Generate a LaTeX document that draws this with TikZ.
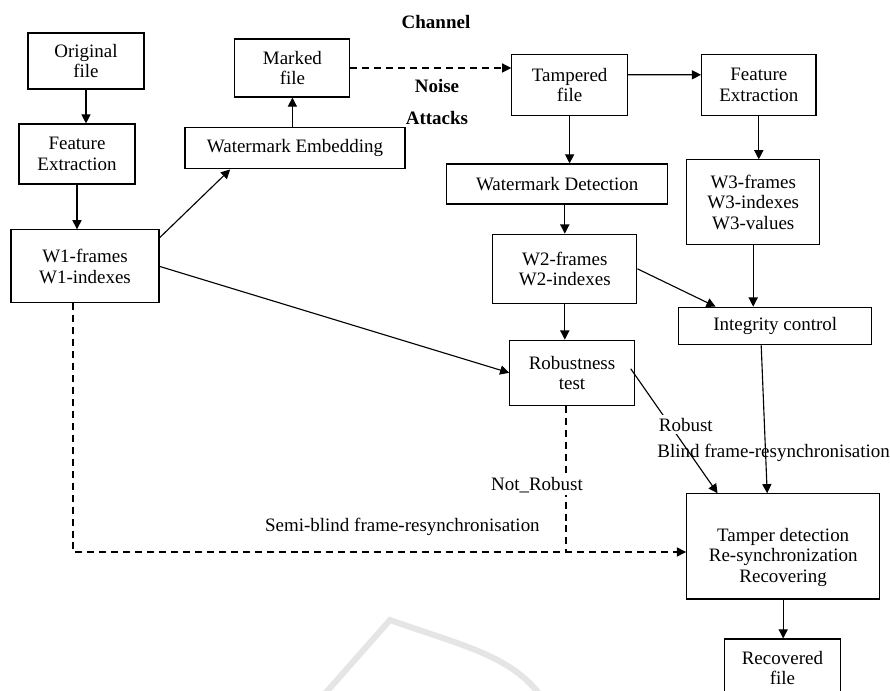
\documentclass[tikz,border=0pt]{standalone}
\usepackage{fontspec}
\setmainfont{Liberation Serif}
\usepackage{tikz}
\usetikzlibrary{arrows,arrows.meta,positioning}

\begin{document}
\begin{tikzpicture}[->, >={Triangle[length=6.5pt,width=6.5pt]}, line width=0.8pt, font=\fontsize{13.5}{14.5}\selectfont]
\tikzstyle{box} = [draw, rectangle, align=center, inner sep=2pt]
\tikzstyle{lbl} = [inner sep=2pt]
\tikzset{dashline/.style={dash pattern=on 5pt off 3.5pt}}
\useasboundingbox (0,0) rectangle (22.25,-17.275);
% faint mark at the bottom
\draw[-, gray!20, line width=4.3pt] (8.05,-17.425) -- (9.75,-15.5)
  .. controls (11.5,-16.125) and (12.75,-16.375) .. (13.5,-17.375);
% boxes
\node[box, minimum width=2.9cm, minimum height=1.4cm] (orig) at (2.15,-1.525) {Original\\file};
\node[box, minimum width=2.875cm, minimum height=1.45cm] (marked) at (7.31,-1.7) {Marked\\file};
\node[box, minimum width=2.9cm, minimum height=1.5cm] (fe1) at (1.925,-3.85) {Feature\\Extraction};
\node[box, minimum width=5.5cm, minimum height=1.025cm] (embed) at (7.375,-3.71) {Watermark Embedding};
\node[box, minimum width=3.7cm, minimum height=1.825cm] (w1) at (2.125,-6.66) {W1-frames\\W1-indexes};
\node[box, minimum width=2.89cm, minimum height=1.515cm] (tamp) at (14.24,-2.125) {Tampered\\file};
\node[box, minimum width=2.86cm, minimum height=1.515cm] (fe2) at (18.97,-2.125) {Feature\\Extraction};
\node[box, minimum width=5.53cm, minimum height=1cm] (detect) at (13.93,-4.6) {Watermark Detection};
\node[box, minimum width=3.33cm, minimum height=2.125cm] (w3) at (18.83,-5.06) {W3-frames\\W3-indexes\\W3-values};
\node[box, minimum width=3.6cm, minimum height=1.73cm] (w2) at (14.12,-6.72) {W2-frames\\W2-indexes};
\node[box, minimum width=4.83cm, minimum height=0.94cm] (integ) at (19.38,-8.15) {Integrity control};
\node[box, minimum width=3.11cm, minimum height=1.63cm] (robust) at (14.3,-9.32) {Robustness\\test};
\node[box, minimum width=4.83cm, minimum height=2.63cm] (tamper) at (19.58,-13.66) {\rule{0pt}{25pt}Tamper detection\\Re-synchronization\\Recovering};
\node[box, minimum width=2.9cm, minimum height=1.45cm] (recov) at (19.56,-16.7) {Recovered\\file};
% free labels
\node[lbl, font=\fontsize{13.5}{14.5}\selectfont\bfseries] (chan) at (10.9,-0.55) {Channel};
\node[lbl, font=\fontsize{13.5}{14.5}\selectfont\bfseries] (noise) at (10.925,-2.15) {Noise};
\node[lbl, font=\fontsize{13.5}{14.5}\selectfont\bfseries] (attack) at (10.925,-2.95) {Attacks};
\node[lbl] (blind) at (19.34,-11.33) {Blind frame-resynchronisation};
\node[lbl] (semi) at (10.06,-13.175) {Semi-blind frame-resynchronisation};
% connectors
\draw (orig.south) -- (orig.south |- fe1.north);
\draw (fe1.south) -- (fe1.south |- w1.north);
\draw (w1.21) -- (embed.198);
\draw (marked.south |- embed.north) -- (marked.south);
\draw[dashline] (marked.east) -- (marked.east -| tamp.west);
\draw (tamp.10) -- (fe2.170);
\draw (tamp.south) -- (tamp.south |- detect.north);
\draw (fe2.south) -- (fe2.south |- w3.north);
\draw (w2.north |- detect.south) -- (w2.north);
\draw (w2.east) -- (integ.162);
\draw (w3.south) -- (w3.south |- integ.north);
\draw (w2.south) -- (w2.south |- robust.north);
\draw (w1.east) -- (robust.west);
\draw ([xshift=-0.1cm,yshift=0.1cm]robust.east) -- node[lbl, pos=0.45, fill=white, xshift=0.4cm] {Robust} (tamper.141);
\draw ([xshift=-0.35cm]integ.south) -- ([xshift=-0.4cm]tamper.north);
\coordinate (sb) at ([yshift=-0.14cm]tamper.west);
\draw[dashline] ([xshift=-0.3cm]w1.south) |- (sb);
\draw[-, dashline] ([xshift=-0.15cm]robust.south) -- node[lbl, pos=0.54, fill=white, xshift=-0.725cm] {Not\_Robust} ([xshift=-0.15cm]robust.south |- sb);
\draw (tamper.south) -- (tamper.south |- recov.north);
\end{tikzpicture}
\end{document}
